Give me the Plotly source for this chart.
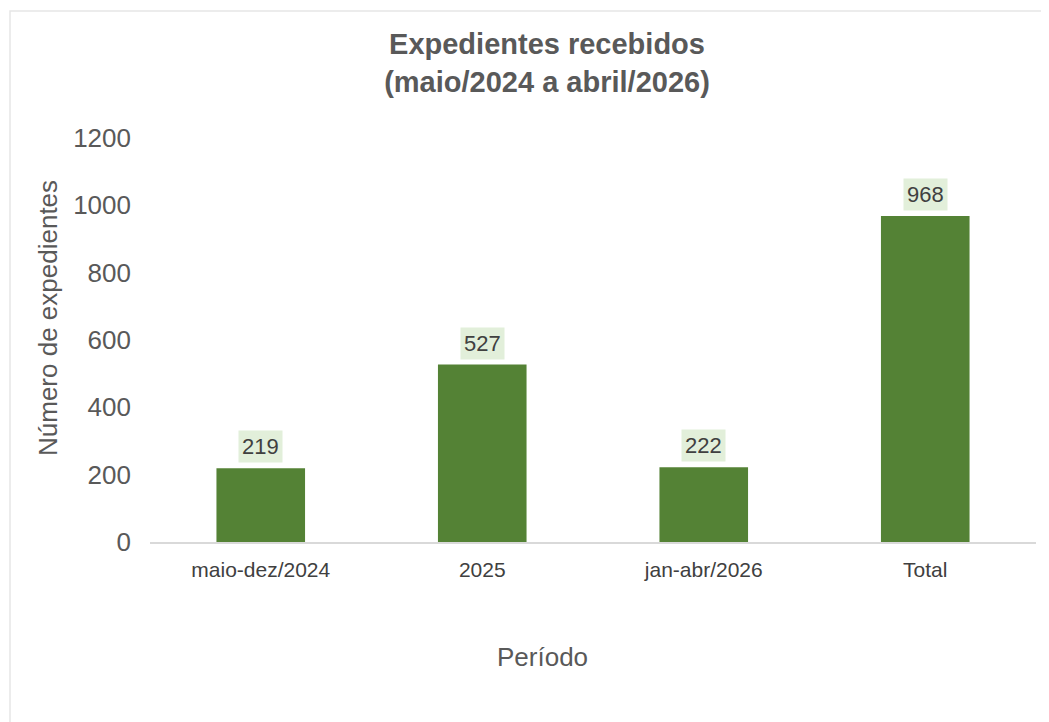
import plotly.graph_objects as go

categories = ["maio-dez/2024", "2025", "jan-abr/2026", "Total"]
values = [219, 527, 222, 968]
y_ticks = [0, 200, 400, 600, 800, 1000, 1200]

FONT = "Liberation Sans, Arial"
W, H = 1049, 722
# page body has an 8px margin, so figure coords = screen coords - 8
L, R, T, B = 142, 21, 130, 188
pw = W - L - R
ph = H - T - B

fig = go.Figure()
fig.add_trace(go.Bar(
    x=categories, y=values,
    marker=dict(color="#548235", line=dict(width=0)),
    width=0.4,
    hoverinfo="skip",
))

for i, v in enumerate(values):
    fig.add_annotation(
        x=i, y=v, xref="x", yref="y",
        text=str(v), showarrow=False,
        yanchor="bottom", yshift=5,
        bgcolor="#E2EFDA", borderpad=3,
        font=dict(family=FONT, size=22, color="#404040"),
    )

# axis titles (positioned like the reference, off the plot centre)
fig.add_annotation(
    xref="paper", yref="paper",
    x=(534 - L) / pw, y=(H - B - 649) / ph,
    xanchor="center", yanchor="middle", showarrow=False,
    text="Período",
    font=dict(family=FONT, size=26, color="#595959"),
)
fig.add_annotation(
    xref="paper", yref="paper",
    x=(40 - L) / pw, y=(H - B - 310) / ph,
    xanchor="center", yanchor="middle", showarrow=False,
    textangle=-90,
    text="Número de expedientes",
    font=dict(family=FONT, size=26, color="#595959"),
)

# outer chart border (top and left visible)
fig.add_shape(
    type="rect", xref="paper", yref="paper",
    x0=(2 - L) / pw, x1=(W + 30 - L) / pw,
    y0=-(B + 30) / ph, y1=(H - B - 3) / ph,
    line=dict(color="#E6E6E6", width=1.5), fillcolor="rgba(0,0,0,0)",
    layer="below",
)

fig.update_layout(
    width=W, height=H,
    margin=dict(l=L, r=R, t=T, b=B),
    paper_bgcolor="white", plot_bgcolor="white",
    showlegend=False,
    title=dict(
        text="<b>Expedientes recebidos<br>(maio/2024 a abril/2026)</b>",
        x=539 / W, xanchor="center",
        y=1 - 46 / H, yanchor="top",
        font=dict(family=FONT, size=29, color="#595959"),
    ),
    xaxis=dict(
        type="category", range=[-0.5, len(categories) - 0.5],
        showline=True, linecolor="#D9D9D9", linewidth=1.5,
        ticks="", ticklabelstandoff=8,
        tickfont=dict(family=FONT, size=21, color="#404040"),
    ),
    yaxis=dict(
        range=[0, 1200], tickvals=y_ticks,
        showgrid=False, zeroline=False, showline=False,
        ticks="", ticklabelstandoff=18,
        tickfont=dict(family=FONT, size=26, color="#595959"),
    ),
)

fig.write_html("out.html")
